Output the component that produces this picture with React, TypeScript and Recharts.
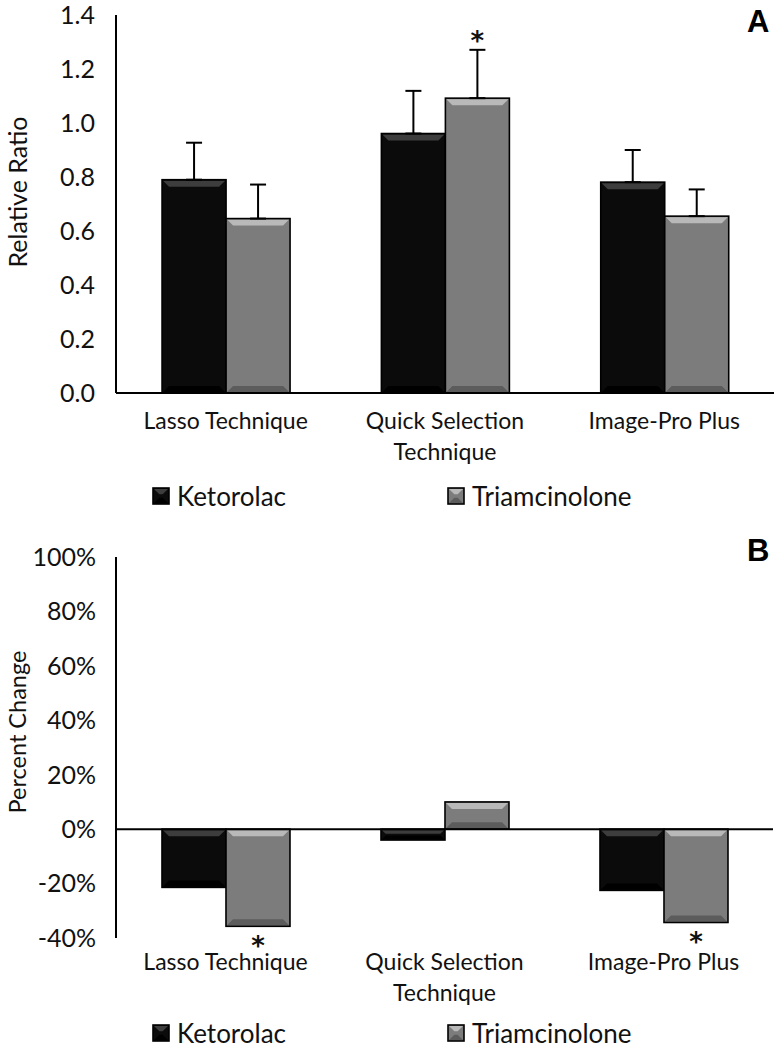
import React from "react"
import { Bar, BarChart, ErrorBar, LabelList, Legend, ReferenceLine, XAxis, YAxis } from "recharts"

const categories = ["Lasso Technique", "Quick Selection Technique", "Image-Pro Plus"]

// panel A: relative ratio
const ketorolacRatio = [0.79, 0.961, 0.781]
const ketorolacRatioErr = [0.137, 0.158, 0.119]
const triamRatio = [0.646, 1.092, 0.655]
const triamRatioErr = [0.126, 0.179, 0.099]
const ratioStars = ["", "*", ""]
const ratioTicks = [0, 0.2, 0.4, 0.6, 0.8, 1.0, 1.2, 1.4]

// panel B: percent change
const ketorolacChange = [-21.4, -4, -22.5]
const triamChange = [-35.7, 10, -34.3]
const changeStars = ["*", "", "*"]
const changeTicks = [-40, -20, 0, 20, 40, 60, 80, 100]

const seriesNames = ["Ketorolac", "Triamcinolone"]

const FONT = "Lato, 'Open Sans', sans-serif"
const STAR_FONT = "'DejaVu Sans', sans-serif"

const ratioData = categories.map((name, i) => ({
  name,
  ketorolac: ketorolacRatio[i],
  ketorolacErr: [0, ketorolacRatioErr[i]],
  triamcinolone: triamRatio[i],
  triamcinoloneErr: [0, triamRatioErr[i]],
  star: ratioStars[i],
}))

const changeData = categories.map((name, i) => ({
  name,
  ketorolac: ketorolacChange[i],
  triamcinolone: triamChange[i],
  star: changeStars[i],
}))

const BLACK = { base: "#0b0b0b", light: "#3d3d3d", dark: "#000000" }
const GRAY = { base: "#7c7c7c", light: "#b9b9b9", dark: "#5c5c5c" }

function BevelBar(props: any) {
  const { x, y, width, height, tone } = props
  if (width == null || height == null) return null
  const top = Math.min(y, y + height)
  const h = Math.abs(height)
  const b = Math.min(6, h / 3)
  return (
    <g>
      <rect x={x} y={top} width={width} height={h} fill={tone.base} />
      {h > 4 && (
        <>
          <polygon
            points={`${x + 1},${top + 1} ${x + width - 1},${top + 1} ${x + width - 1 - b},${top + 1 + b} ${x + 1 + b},${top + 1 + b}`}
            fill={tone.light}
          />
          <polygon
            points={`${x + 1},${top + h - 1} ${x + width - 1},${top + h - 1} ${x + width - 1 - b},${top + h - 1 - b} ${x + 1 + b},${top + h - 1 - b}`}
            fill={tone.dark}
          />
        </>
      )}
      <rect x={x} y={top} width={width} height={h} fill="none" stroke="#000" strokeWidth={1.6} />
    </g>
  )
}

function wrapLabel(s: string) {
  if (s.length <= 16) return [s]
  const cut = s.lastIndexOf(" ", 16)
  return [s.slice(0, cut), s.slice(cut + 1)]
}

function CategoryTick(props: any) {
  const { x, y, payload, firstDy } = props
  const lines = wrapLabel(String(payload.value))
  return (
    <text x={x} y={y} textAnchor="middle" fontFamily={FONT} fontSize={23} fill="#111">
      {lines.map((l, i) => (
        <tspan key={i} x={x} dy={i === 0 ? firstDy : 31}>
          {l}
        </tspan>
      ))}
    </text>
  )
}

function LegendBox() {
  const tones = [BLACK, GRAY]
  const lefts = [152, 447]
  return (
    <div style={{ position: "relative", width: 779, height: 40 }}>
      {seriesNames.map((n, i) => (
        <div
          key={n}
          style={{
            position: "absolute",
            left: lefts[i],
            top: 6,
            height: 34,
            display: "flex",
            alignItems: "center",
            fontFamily: FONT,
            fontSize: 26,
            color: "#111",
          }}
        >
          <svg width={18} height={18} style={{ marginRight: 7 }}>
            <BevelBar x={1} y={1} width={16} height={16} tone={tones[i]} />
          </svg>
          {n}
        </div>
      ))}
    </div>
  )
}

function StarAbove(errs: number[], values: number[]) {
  return (props: any) => {
    const { x, y, width, height, value, index } = props
    if (!value) return null
    const perUnit = height / values[index]
    const errTop = y - errs[index] * perUnit
    return (
      <text x={x + width / 2} y={errTop} textAnchor="middle" fontFamily={STAR_FONT} fontWeight={700} fontSize={26} fill="#111">
        {value}
      </text>
    )
  }
}

function StarBelow(props: any) {
  const { x, y, width, height, value } = props
  if (!value) return null
  const bottom = Math.max(y, y + height)
  return (
    <text x={x + width / 2} y={bottom + 29} textAnchor="middle" fontFamily={STAR_FONT} fontWeight={700} fontSize={26} fill="#111">
      {value}
    </text>
  )
}

const tickStyle = { fontFamily: FONT, fontSize: 25, fill: "#111" }

function AxisTitle({ text, cy, size }: { text: string; cy: number; size: number }) {
  return (
    <text
      x={17}
      y={cy}
      transform={`rotate(-90 17 ${cy})`}
      textAnchor="middle"
      dominantBaseline="central"
      fontFamily={FONT}
      fontSize={size}
      fill="#111"
    >
      {text}
    </text>
  )
}

function PanelLetter({ letter, top }: { letter: string; top: number }) {
  return (
    <div
      style={{
        position: "absolute",
        left: 747,
        top,
        fontFamily: "'Liberation Sans', Arial, sans-serif",
        fontWeight: 700,
        fontSize: 31,
        color: "#000",
      }}
    >
      {letter}
    </div>
  )
}

export default function App() {
  return (
    <div style={{ position: "absolute", left: 0, top: 0, width: 779, height: 1050, background: "#fff" }}>
      <div style={{ position: "absolute", left: 0, top: 0 }}>
        <BarChart
          width={779}
          height={513}
          data={ratioData}
          margin={{ top: 15, right: 5, left: 0, bottom: 0 }}
          barCategoryGap="21%"
          barGap={0}
        >
          <XAxis
            dataKey="name"
            height={80}
            axisLine={{ stroke: "#000", strokeWidth: 2 }}
            tickLine={false}
            tickSize={0}
            tickMargin={0}
            interval={0}
            tick={<CategoryTick firstDy={36} />}
          />
          <YAxis
            width={116}
            domain={[0, 1.4]}
            ticks={ratioTicks}
            tickFormatter={(v: number) => v.toFixed(1)}
            axisLine={{ stroke: "#000", strokeWidth: 2 }}
            tickLine={false}
            tickSize={0}
            tickMargin={21}
            tick={tickStyle}
            label={{ content: () => <AxisTitle text="Relative Ratio" cy={192} size={25} /> }}
          />
          <Legend verticalAlign="bottom" height={40} wrapperStyle={{ left: 0, width: 779 }} content={() => <LegendBox />} />
          <Bar dataKey="ketorolac" name="Ketorolac" isAnimationActive={false} shape={(p: any) => <BevelBar {...p} tone={BLACK} />}>
            <ErrorBar dataKey="ketorolacErr" direction="y" width={8} strokeWidth={2} stroke="#000" isAnimationActive={false} />
          </Bar>
          <Bar dataKey="triamcinolone" name="Triamcinolone" isAnimationActive={false} shape={(p: any) => <BevelBar {...p} tone={GRAY} />}>
            <ErrorBar dataKey="triamcinoloneErr" direction="y" width={8} strokeWidth={2} stroke="#000" isAnimationActive={false} />
            <LabelList dataKey="star" content={StarAbove(triamRatioErr, triamRatio)} />
          </Bar>
        </BarChart>
      </div>
      <PanelLetter letter="A" top={4} />

      <div style={{ position: "absolute", left: 0, top: 510 }}>
        <BarChart
          width={779}
          height={540}
          data={changeData}
          margin={{ top: 47, right: 6, left: 0, bottom: 0 }}
          barCategoryGap="21%"
          barGap={0}
        >
          <XAxis
            dataKey="name"
            height={72}
            axisLine={false}
            tickLine={false}
            tickSize={0}
            tickMargin={0}
            interval={0}
            tick={<CategoryTick firstDy={32} />}
          />
          <YAxis
            width={116}
            domain={[-40, 100]}
            ticks={changeTicks}
            tickFormatter={(v: number) => `${v}%`}
            axisLine={{ stroke: "#000", strokeWidth: 2 }}
            tickLine={false}
            tickSize={0}
            tickMargin={20}
            tick={tickStyle}
            label={{ content: () => <AxisTitle text="Percent Change" cy={222} size={23.5} /> }}
          />
          <ReferenceLine y={0} stroke="#000" strokeWidth={2} />
          <Legend verticalAlign="bottom" height={40} wrapperStyle={{ left: 0, width: 779 }} content={() => <LegendBox />} />
          <Bar dataKey="ketorolac" name="Ketorolac" isAnimationActive={false} shape={(p: any) => <BevelBar {...p} tone={BLACK} />} />
          <Bar dataKey="triamcinolone" name="Triamcinolone" isAnimationActive={false} shape={(p: any) => <BevelBar {...p} tone={GRAY} />}>
            <LabelList dataKey="star" content={StarBelow} />
          </Bar>
        </BarChart>
      </div>
      <PanelLetter letter="B" top={533} />
    </div>
  )
}
